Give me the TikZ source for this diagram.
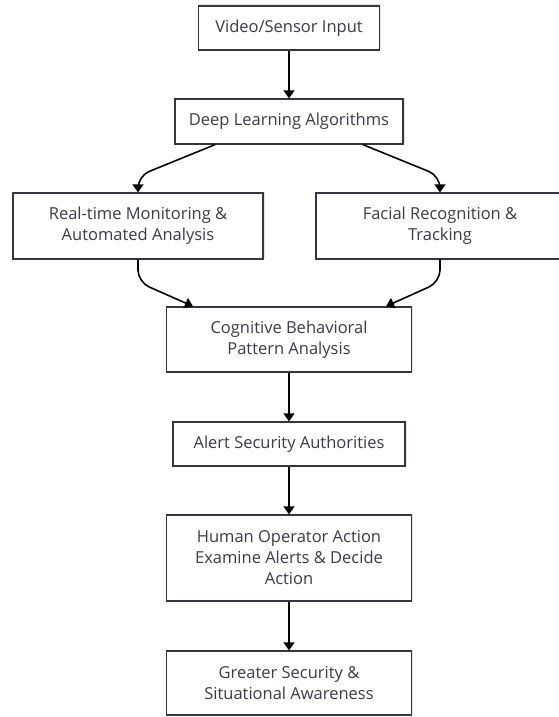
\documentclass[tikz,border=0pt]{standalone}
\usepackage{fontspec}
\setmainfont{Open Sans}
\usepackage{tikz}
\usetikzlibrary{arrows.meta,shadows}
\definecolor{ink}{HTML}{3C3C48}
\tikzset{
  box/.style={draw=ink!90!black, line width=1.3pt, fill=white, align=center,
    text=ink, font=\fontsize{16.5}{21}\selectfont, inner sep=0pt,
    drop shadow={shadow xshift=1.5pt, shadow yshift=1.5pt, opacity=0.2}},
  flow/.style={line width=1.6pt, -{Triangle[width=11pt,length=8pt]}, rounded corners=12pt}
}
\newcommand{\cx}{289}

\begin{document}
\begin{tikzpicture}[x=1pt,y=-1pt]
\useasboundingbox (0,0) rectangle (559,717);
\node[box, minimum width=181pt, minimum height=44pt] (input) at (\cx,28) {Video/Sensor Input};
\node[box, minimum width=228pt, minimum height=45pt] (deep) at (\cx,121.5) {Deep Learning Algorithms};
\node[box, minimum width=250pt, minimum height=66pt] (monitor) at (138,226) {Real-time Monitoring \&\\Automated Analysis};
\node[box, minimum width=248pt, minimum height=66pt] (face) at (440,226) {Facial Recognition \&\\Tracking};
\node[box, minimum width=245pt, minimum height=65pt] (pattern) at (\cx,339.5) {Cognitive Behavioral\\Pattern Analysis};
\node[box, minimum width=232pt, minimum height=44pt] (alert) at (\cx,444) {Alert Security Authorities};
\node[box, minimum width=245pt, minimum height=86pt] (human) at (\cx,558) {Human Operator Action\\Examine Alerts \& Decide\\Action};
\node[box, minimum width=245pt, minimum height=64pt] (secure) at (\cx,683) {Greater Security \&\\Situational Awareness};
\draw[flow] (input) -- (deep);
\draw[flow] (deep.south -| 215,0) -- (138,176) -- (monitor.north);
\draw[flow] (deep.south -| 363,0) -- (440,176) -- (face.north);
\draw[flow] (monitor.south) -- (138,282) -- (pattern.north -| 193,0);
\draw[flow] (face.south) -- (440,282) -- (pattern.north -| 386,0);
\draw[flow] (pattern) -- (alert);
\draw[flow] (alert) -- (human);
\draw[flow] (human) -- (secure);
\end{tikzpicture}
\end{document}
